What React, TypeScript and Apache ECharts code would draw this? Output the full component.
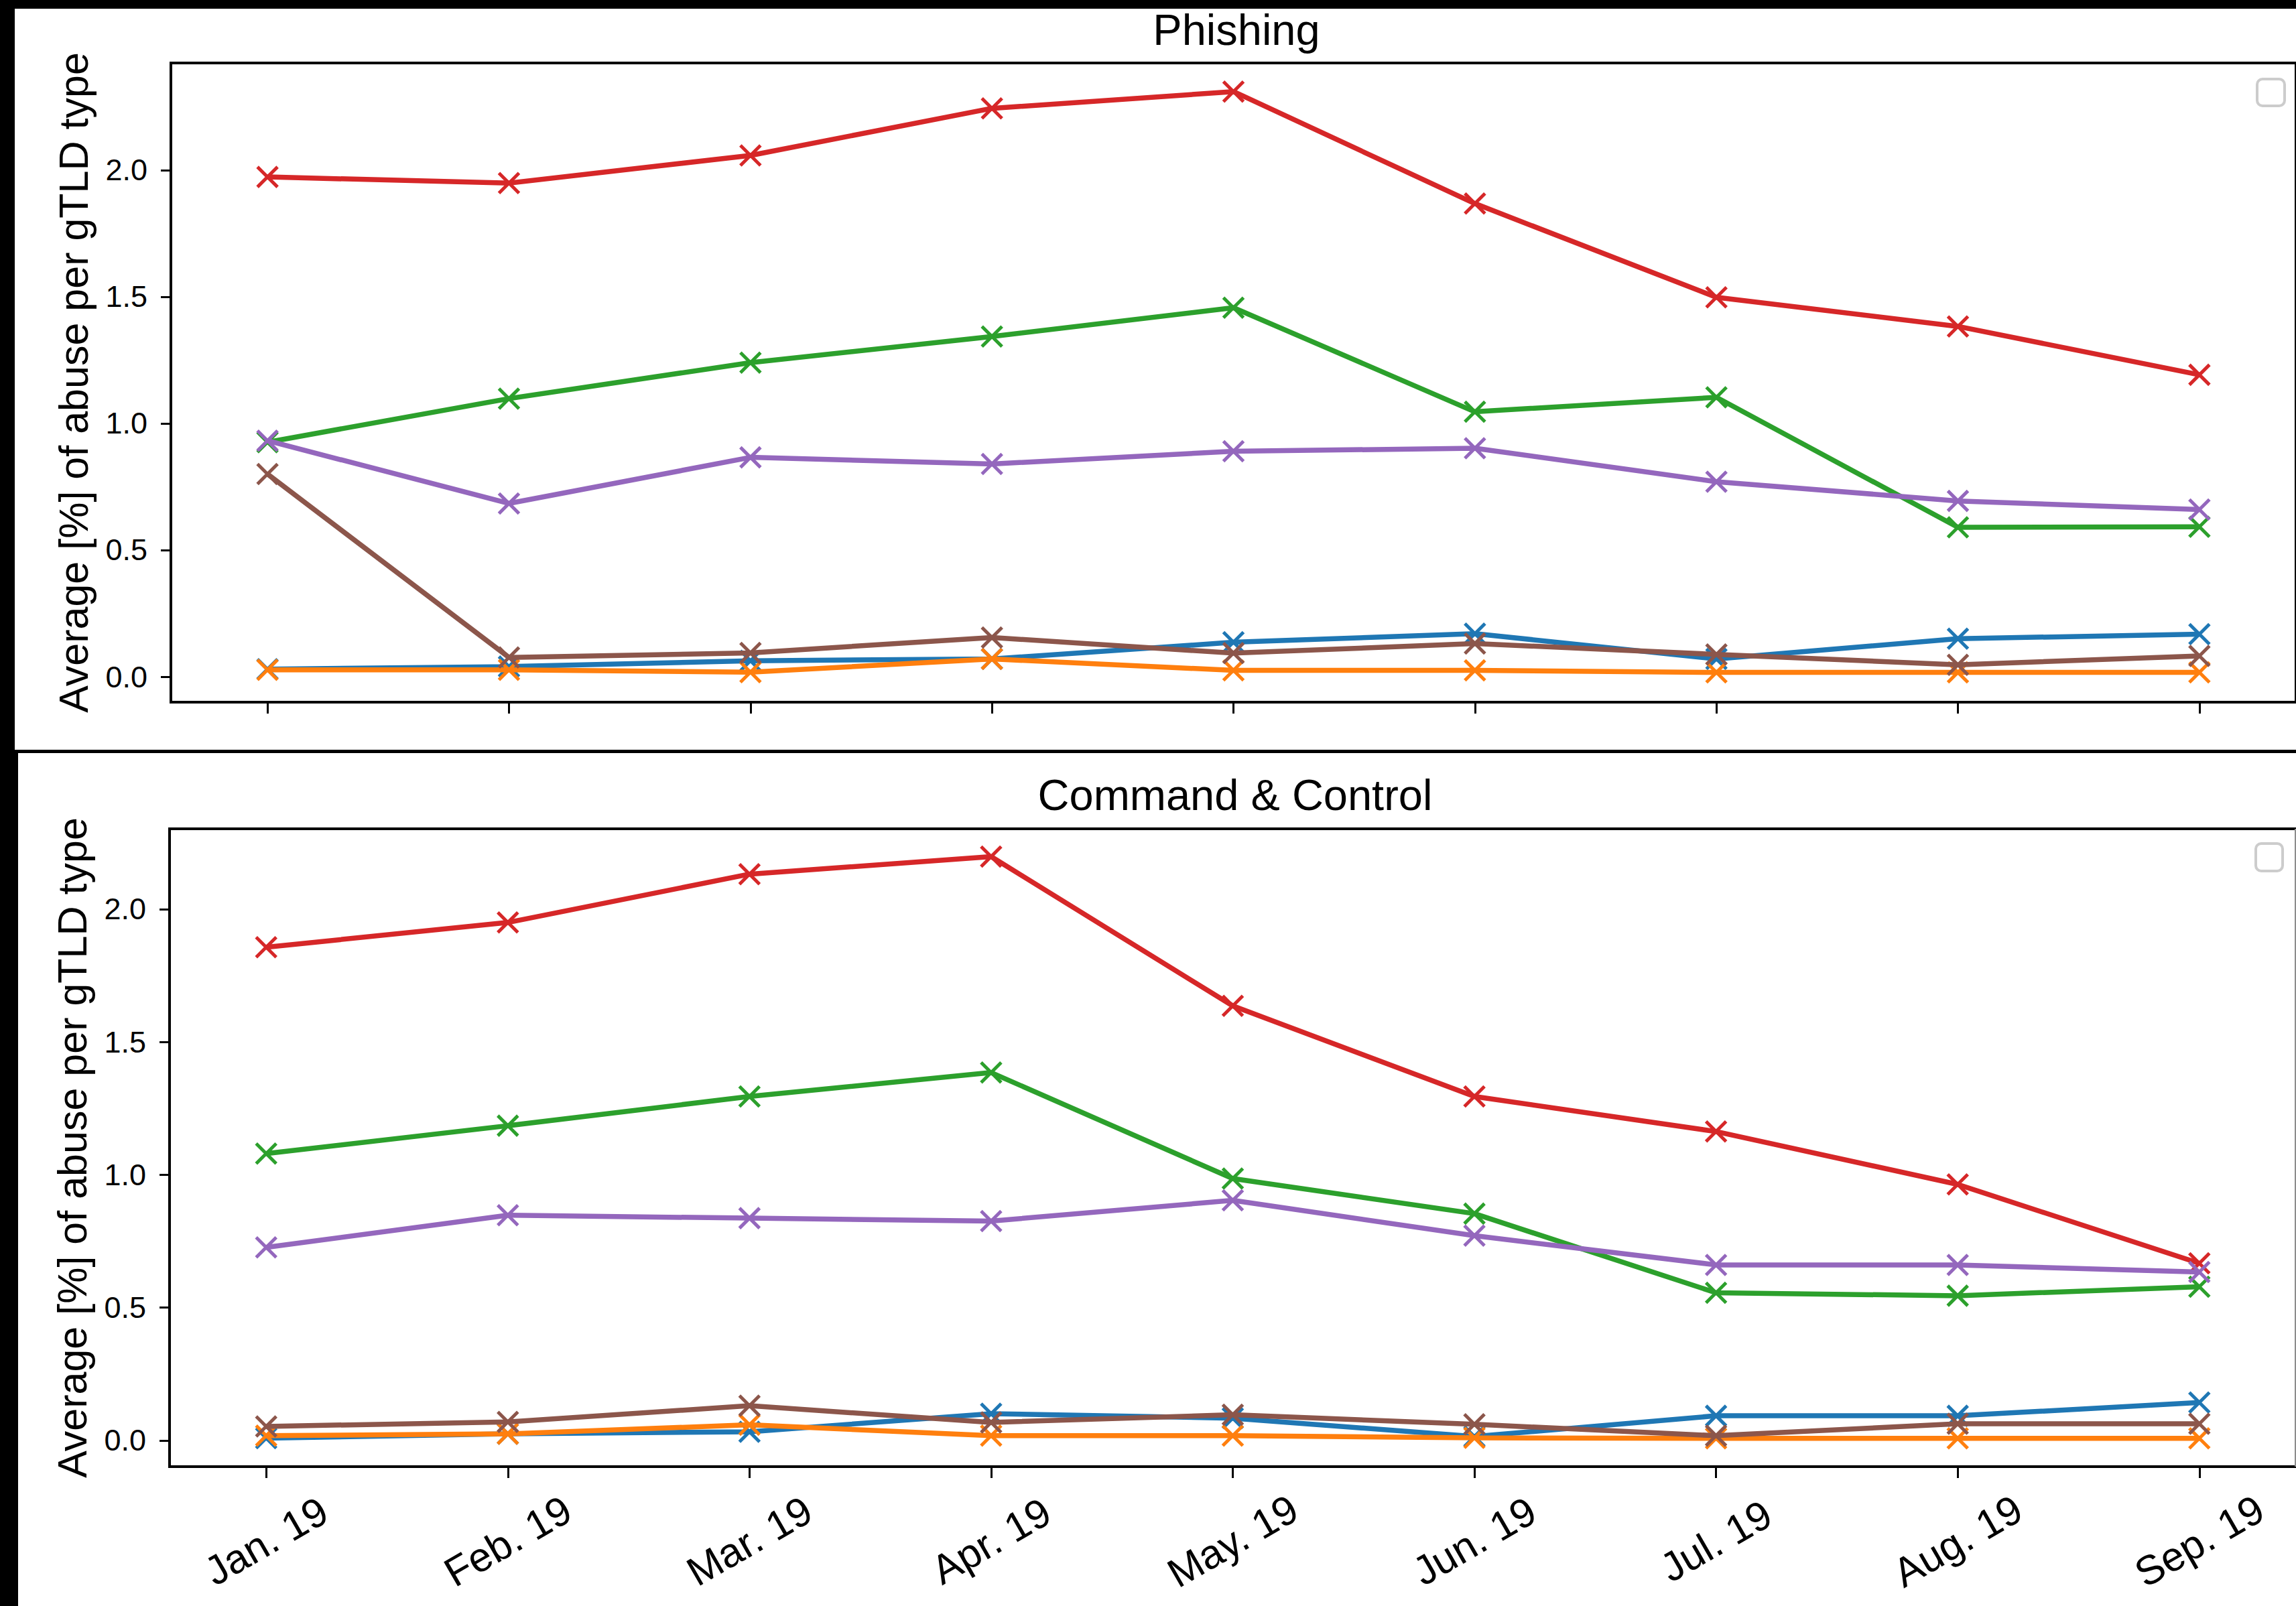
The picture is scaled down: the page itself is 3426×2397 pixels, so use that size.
import React, { useEffect, useRef } from "react";
import * as echarts from "echarts";

// Month labels along the shared x axis
const MONTHS = ["Jan. 19", "Feb. 19", "Mar. 19", "Apr. 19", "May. 19", "Jun. 19", "Jul. 19", "Aug. 19", "Sep. 19"];
const Y_TICKS = [0, 0.5, 1.0, 1.5, 2.0];

// Phishing panel: average [%] of abuse per gTLD type
const phishingBlue = [0.03, 0.04, 0.063, 0.07, 0.136, 0.17, 0.07, 0.15, 0.168];
const phishingOrange = [0.027, 0.027, 0.018, 0.07, 0.025, 0.025, 0.017, 0.017, 0.017];
const phishingGreen = [0.926, 1.098, 1.24, 1.343, 1.457, 1.046, 1.103, 0.59, 0.592];
const phishingRed = [1.973, 1.949, 2.058, 2.244, 2.31, 1.868, 1.498, 1.383, 1.192];
const phishingPurple = [0.932, 0.684, 0.866, 0.84, 0.89, 0.902, 0.77, 0.694, 0.66];
const phishingBrown = [0.8, 0.076, 0.094, 0.155, 0.093, 0.131, 0.088, 0.047, 0.082];

// Command & Control panel
const c2Blue = [0.009, 0.025, 0.033, 0.101, 0.084, 0.015, 0.093, 0.093, 0.143];
const c2Orange = [0.018, 0.025, 0.059, 0.018, 0.018, 0.01, 0.008, 0.008, 0.008];
const c2Green = [1.08, 1.185, 1.295, 1.385, 0.986, 0.854, 0.556, 0.545, 0.579];
const c2Red = [1.857, 1.95, 2.132, 2.198, 1.636, 1.295, 1.163, 0.964, 0.667];
const c2Purple = [0.727, 0.848, 0.837, 0.826, 0.904, 0.771, 0.661, 0.661, 0.634];
const c2Brown = [0.053, 0.07, 0.131, 0.068, 0.097, 0.061, 0.018, 0.063, 0.063];

const COLORS = ["#1f77b4", "#ff7f0e", "#2ca02c", "#d62728", "#9467bd", "#8c564b"];
const PHISHING = [phishingBlue, phishingOrange, phishingGreen, phishingRed, phishingPurple, phishingBrown];
const C2 = [c2Blue, c2Orange, c2Green, c2Red, c2Purple, c2Brown];

const FONT = "Liberation Sans, Arial, Helvetica, sans-serif";
const W = 3426;
const H = 2397;
const X_MARK = "path://M0,0L10,10M10,0L0,10";

function buildSeries(groups: number[][], axisIndex: number) {
  return groups.map((vals, k) => ({
    type: "line",
    xAxisIndex: axisIndex,
    yAxisIndex: axisIndex,
    z: 2 + k,
    data: vals.map((v, i) => [i, v]),
    symbol: X_MARK,
    symbolSize: 30,
    showSymbol: true,
    lineStyle: { color: COLORS[k], width: 7.5 },
    itemStyle: { color: COLORS[k], borderColor: COLORS[k], borderWidth: 5 },
    emphasis: { disabled: true },
  }));
}

function xAxis(gridIndex: number, showLabels: boolean) {
  const idx = MONTHS.map((_, i) => i);
  return {
    type: "value",
    gridIndex,
    min: -0.4,
    max: 8.4,
    axisLine: { show: false, onZero: false },
    splitLine: { show: false },
    axisTick: { show: true, customValues: idx, length: 17, lineStyle: { color: "#000", width: 3 } },
    axisLabel: {
      show: showLabels,
      customValues: idx,
      formatter: (v: number) => MONTHS[Math.round(v)] ?? "",
      rotate: 30,
      align: "center",
      verticalAlign: "middle",
      margin: 111,
      fontSize: 61,
      fontFamily: FONT,
      color: "#000",
    },
  };
}

function yAxis(gridIndex: number, min: number, max: number) {
  return {
    type: "value",
    gridIndex,
    min,
    max,
    name: "Average [%] of abuse per gTLD type",
    nameLocation: "middle",
    nameGap: 115,
    nameTextStyle: { fontSize: 61, fontFamily: FONT, color: "#000" },
    axisLine: { show: false, onZero: false },
    splitLine: { show: false },
    axisTick: { show: true, customValues: Y_TICKS, length: 15, lineStyle: { color: "#000", width: 3 } },
    axisLabel: {
      customValues: Y_TICKS,
      formatter: (v: number) => v.toFixed(1),
      margin: 35,
      fontSize: 45,
      fontFamily: FONT,
      color: "#000",
    },
  };
}

function legendBox(x: number, y: number, w: number, h: number) {
  return {
    type: "rect",
    shape: { x, y, width: w, height: h, r: 8 },
    style: { fill: "#ffffff", stroke: "#cccccc", lineWidth: 4 },
    z: 20,
  };
}

export default function App() {
  const ref = useRef<HTMLDivElement>(null);

  useEffect(() => {
    if (!ref.current) return;
    const chart = echarts.init(ref.current, null, { renderer: "svg", width: W, height: H });
    chart.setOption({
      animation: false,
      backgroundColor: "#ffffff",
      grid: [
        { left: 255, top: 94, width: 3180, height: 954, show: true, borderColor: "#000", borderWidth: 4, backgroundColor: "transparent" },
        { left: 253, top: 1237, width: 3181, height: 952, show: true, borderColor: "#000", borderWidth: 4, backgroundColor: "transparent" },
      ],
      xAxis: [xAxis(0, false), xAxis(1, true)],
      yAxis: [yAxis(0, -0.1005, 2.423), yAxis(1, -0.0984, 2.3026)],
      series: [...buildSeries(PHISHING, 0), ...buildSeries(C2, 1)],
      graphic: [
        // panel titles
        { type: "text", x: 1845, y: 44, z: 20, style: { text: "Phishing", fontSize: 65, fontFamily: FONT, fill: "#000", align: "center", verticalAlign: "middle" } },
        { type: "text", x: 1843, y: 1186, z: 20, style: { text: "Command & Control", fontSize: 65, fontFamily: FONT, fill: "#000", align: "center", verticalAlign: "middle" } },
        // empty legend frames
        legendBox(3368, 118, 41, 40),
        legendBox(3366, 1259, 40, 41),
        // faint right edge of the lower panel
        { type: "line", shape: { x1: 3425, y1: 1237, x2: 3425, y2: 2189 }, style: { stroke: "#bbbbbb", lineWidth: 1.5 }, z: 20 },
        // black frame around the composed figure
        { type: "rect", shape: { x: 0, y: 0, width: W, height: 13 }, style: { fill: "#000" }, z: 30 },
        { type: "rect", shape: { x: 0, y: 0, width: 22, height: 1123 }, style: { fill: "#000" }, z: 30 },
        { type: "rect", shape: { x: 0, y: 1119, width: W, height: 5 }, style: { fill: "#000" }, z: 30 },
        { type: "rect", shape: { x: 0, y: 1119, width: 27, height: H - 1119 }, style: { fill: "#000" }, z: 30 },
      ],
    });
    return () => chart.dispose();
  }, []);

  return (
    <div
      ref={ref}
      style={{ position: "fixed", left: 0, top: 0, width: W, height: H, background: "#fff", overflow: "hidden" }}
    />
  );
}
